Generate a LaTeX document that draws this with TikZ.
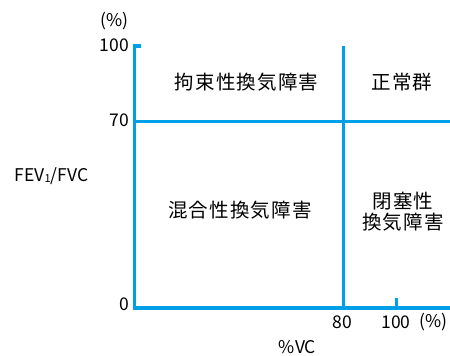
\documentclass[tikz,border=0pt]{standalone}
\usepackage{fontspec}
\setmainfont{Noto Sans CJK JP}
\definecolor{axisblue}{RGB}{0,160,233}
\begin{document}
\begin{tikzpicture}[x=1pt,y=-1pt,
  axisline/.style={draw=axisblue,line width=3.6pt,miter limit=10},
  numlabel/.style={inner sep=0pt,font=\fontsize{17.5}{20}\selectfont},
  regionlabel/.style={inner sep=0pt,align=center,font=\fontsize{19.5}{21}\selectfont\addfontfeature{LetterSpace=6}}]
\useasboundingbox (0,0) rectangle (450,356);
% corner coordinates
\coordinate (ytop) at (134.5,46);
\coordinate (ytick) at (141,46);
\coordinate (origin) at (134.5,308);
\coordinate (xend) at (450,308);
\coordinate (seventyL) at (134.5,121.5);
\coordinate (seventyR) at (450,121.5);
\coordinate (eightyT) at (343.5,46);
\coordinate (eightyB) at (343.5,308);
\coordinate (hundredT) at (396,298);
\coordinate (hundredB) at (396,308);
% lines
\draw[axisline] (ytick) -- (ytop) -- (origin) -- (xend);
\draw[axisline] (seventyL) -- (seventyR);
\draw[axisline] (eightyT) -- (eightyB);
\draw[axisline,line width=3pt] (hundredT) -- (hundredB);
% axis labels
\node[numlabel] (ypct) at (114.5,21) {(\%)};
\node[numlabel,anchor=east] (y100) at (129,45) {100};
\node[numlabel,anchor=east] (y70) at (129,120) {70};
\node[numlabel,anchor=east] (y0) at (129,304) {0};
\node[numlabel] (ylab) at (51.5,176) {FEV\raisebox{-1pt}{\fontsize{11}{11}\selectfont 1}/FVC};
\node[numlabel] (x80) at (342.5,322.5) {80};
\node[numlabel] (x100) at (396,322.5) {100};
\node[numlabel] (xpct) at (433.5,322.5) {(\%)};
\node[numlabel] (xlab) at (297.5,347) {\%VC};
% regions
\node[regionlabel] (restrict) at (246.5,82.5) {拘束性換気障害};
\node[regionlabel] (normal) at (402,82.5) {正常群};
\node[regionlabel] (mixed) at (240,210) {混合性換気障害};
\node[regionlabel] (obstruct) at (403,211.5) {閉塞性\\換気障害};
\end{tikzpicture}
\end{document}
